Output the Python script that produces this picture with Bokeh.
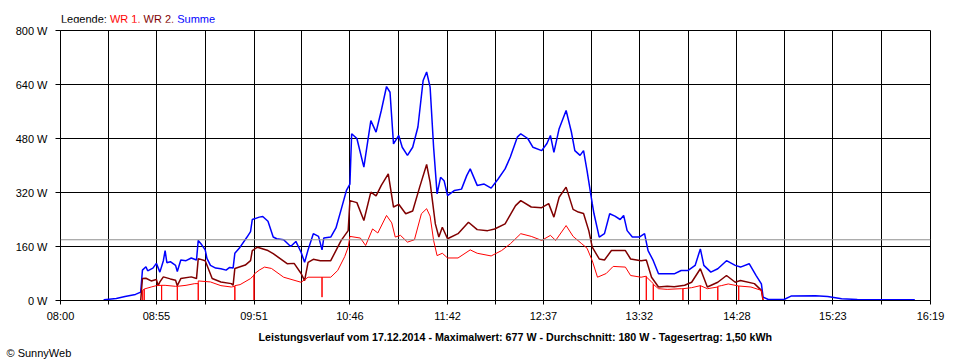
from bokeh.plotting import figure
from bokeh.models import FixedTicker, Span, Range1d, Title, Div
from bokeh.layouts import column
from bokeh.embed import file_html
from bokeh.resources import INLINE

X_LABELS = ["08:00", "08:55", "09:51", "10:46", "11:42", "12:37", "13:32", "14:28", "15:23", "16:19"]
Y_TICKS = [0, 160, 320, 480, 640, 800]
Y_LABELS = ["0 W", "160 W", "320 W", "480 W", "640 W", "800 W"]
AVG_W = 180
TITLE = "Leistungsverlauf vom 17.12.2014 - Maximalwert: 677 W - Durchschnitt: 180 W - Tagesertrag: 1,50 kWh"
SERIES_NAMES = ["WR 1", "WR 2", "Summe"]

SUMME = [
    ("08:25", 0), ("08:25", 2), ("08:32", 6), ("08:37", 12), ("08:43", 18), ("08:46", 25),
    ("08:47", 90), ("08:49", 100), ("08:50", 88), ("08:53", 96), ("08:55", 110), ("08:57", 84),
    ("08:59", 118), ("09:00", 148), ("09:01", 112), ("09:03", 115), ("09:06", 104), ("09:07", 86),
    ("09:09", 120), ("09:12", 118), ("09:15", 126), ("09:18", 120), ("09:19", 178), ("09:21", 165),
    ("09:23", 150), ("09:24", 125), ("09:26", 104), ("09:29", 96), ("09:32", 94), ("09:35", 90),
    ("09:37", 98), ("09:39", 96), ("09:40", 140), ("09:43", 158), ("09:47", 188), ("09:49", 204),
    ("09:50", 240), ("09:54", 247), ("09:56", 249), ("09:59", 235), ("10:02", 188), ("10:04", 183),
    ("10:08", 180), ("10:12", 160), ("10:15", 175), ("10:18", 143), ("10:20", 113), ("10:22", 150),
    ("10:25", 198), ("10:28", 190), ("10:30", 150), ("10:31", 185), ("10:35", 188), ("10:38", 215),
    ("10:41", 270), ("10:44", 326), ("10:46", 345), ("10:47", 494), ("10:50", 480), ("10:54", 395),
    ("10:58", 533), ("11:01", 499), ("11:04", 563), ("11:07", 634), ("11:09", 617), ("11:11", 464),
    ("11:14", 489), ("11:16", 454), ("11:19", 430), ("11:22", 454), ("11:25", 514), ("11:28", 652),
    ("11:30", 677), ("11:32", 632), ("11:34", 454), ("11:36", 316), ("11:38", 365), ("11:40", 355),
    ("11:42", 311), ("11:46", 326), ("11:50", 330), ("11:53", 370), ("11:55", 390), ("11:59", 341),
    ("12:03", 345), ("12:07", 333), ("12:11", 360), ("12:15", 390), ("12:18", 425), ("12:22", 484),
    ("12:24", 494), ("12:28", 480), ("12:31", 454), ("12:36", 444), ("12:39", 465), ("12:41", 489),
    ("12:43", 439), ("12:46", 509), ("12:50", 563), ("12:53", 500), ("12:55", 444), ("12:58", 430),
    ("13:00", 444), ("13:02", 385), ("13:05", 287), ("13:06", 257), ("13:09", 188), ("13:12", 198),
    ("13:15", 257), ("13:18", 250), ("13:21", 240), ("13:23", 252), ("13:25", 207), ("13:28", 188),
    ("13:32", 188), ("13:35", 198), ("13:37", 148), ("13:40", 118), ("13:43", 79), ("13:46", 79),
    ("13:52", 79), ("13:56", 89), ("14:00", 89), ("14:04", 104), ("14:07", 153), ("14:09", 104),
    ("14:13", 84), ("14:17", 94), ("14:22", 118), ("14:27", 104), ("14:30", 99), ("14:35", 109),
    ("14:39", 74), ("14:42", 49), ("14:43", 10), ("14:46", 3), ("14:55", 3), ("14:59", 13),
    ("15:13", 14), ("15:20", 12), ("15:28", 5), ("15:37", 3), ("16:10", 2),
]

WR2 = [
    ("08:46", 0), ("08:47", 65), ("08:49", 66), ("08:52", 58), ("08:55", 62), ("08:56", 44),
    ("08:57", 55), ("08:59", 70), ("09:03", 64), ("09:06", 60), ("09:07", 44), ("09:09", 65),
    ("09:15", 70), ("09:18", 65), ("09:19", 124), ("09:23", 118), ("09:27", 65), ("09:32", 55),
    ("09:38", 50), ("09:39", 45), ("09:40", 95), ("09:46", 105), ("09:49", 118), ("09:50", 148),
    ("09:53", 158), ("09:59", 148), ("10:02", 139), ("10:10", 109), ("10:14", 110), ("10:18", 80),
    ("10:20", 59), ("10:22", 113), ("10:25", 122), ("10:29", 118), ("10:35", 118), ("10:41", 178),
    ("10:45", 207), ("10:46", 296), ("10:50", 290), ("10:54", 237), ("10:58", 321), ("11:01", 310),
    ("11:04", 341), ("11:08", 375), ("11:11", 277), ("11:14", 285), ("11:18", 257), ("11:22", 265),
    ("11:26", 336), ("11:30", 403), ("11:32", 350), ("11:35", 227), ("11:37", 188), ("11:39", 217),
    ("11:42", 183), ("11:48", 198), ("11:54", 232), ("11:59", 210), ("12:05", 207), ("12:09", 212),
    ("12:15", 227), ("12:21", 281), ("12:24", 296), ("12:30", 277), ("12:36", 275), ("12:40", 287),
    ("12:43", 247), ("12:46", 306), ("12:50", 336), ("12:54", 270), ("12:57", 262), ("13:00", 258),
    ("13:03", 207), ("13:05", 158), ("13:09", 123), ("13:12", 120), ("13:16", 148), ("13:24", 148),
    ("13:27", 123), ("13:33", 118), ("13:36", 120), ("13:39", 69), ("13:43", 40), ("13:48", 42),
    ("13:52", 41), ("13:58", 45), ("14:02", 54), ("14:07", 94), ("14:11", 40), ("14:17", 54),
    ("14:22", 74), ("14:27", 54), ("14:30", 59), ("14:38", 50), ("14:42", 30), ("14:43", 0),
]

WR1 = [
    ("08:47", 0), ("08:47", 30), ("08:48", 33), ("08:48", 0), ("08:48", 34), ("08:52", 40),
    ("08:55", 44), ("08:58", 45), ("08:58", 0), ("08:58", 45), ("09:00", 45), ("09:06", 42),
    ("09:07", 42), ("09:07", 0), ("09:07", 42), ("09:12", 45), ("09:17", 50), ("09:19", 50),
    ("09:19", 0), ("09:19", 58), ("09:26", 55), ("09:32", 44), ("09:38", 40), ("09:40", 42),
    ("09:40", 0), ("09:40", 44), ("09:43", 47), ("09:49", 65), ("09:51", 75), ("09:51", 0),
    ("09:51", 78), ("09:54", 90), ("09:57", 99), ("10:01", 95), ("10:08", 69), ("10:18", 54),
    ("10:22", 69), ("10:30", 69), ("10:30", 10), ("10:30", 69), ("10:35", 69), ("10:39", 89),
    ("10:43", 130), ("10:45", 158), ("10:46", 190), ("10:52", 185), ("10:55", 163), ("10:59", 212),
    ("11:02", 200), ("11:07", 252), ("11:10", 230), ("11:12", 188), ("11:15", 193), ("11:19", 173),
    ("11:23", 180), ("11:27", 257), ("11:30", 272), ("11:32", 250), ("11:34", 178), ("11:36", 133),
    ("11:39", 140), ("11:42", 126), ("11:48", 126), ("11:55", 150), ("11:59", 140), ("12:07", 132),
    ("12:13", 148), ("12:18", 168), ("12:24", 198), ("12:30", 190), ("12:36", 178), ("12:41", 193),
    ("12:44", 178), ("12:50", 222), ("12:54", 190), ("12:59", 168), ("13:02", 155), ("13:05", 118),
    ("13:08", 69), ("13:13", 80), ("13:17", 101), ("13:24", 99), ("13:27", 74), ("13:33", 69),
    ("13:36", 72), ("13:36", 0), ("13:36", 70), ("13:39", 55), ("13:40", 50), ("13:40", 0),
    ("13:40", 48), ("13:43", 35), ("13:48", 33), ("13:56", 35), ("13:57", 35), ("13:57", 0),
    ("13:57", 35), ("14:02", 38), ("14:07", 44), ("14:07", 0), ("14:07", 44), ("14:11", 35),
    ("14:17", 40), ("14:17", 0), ("14:17", 42), ("14:19", 44), ("14:23", 49), ("14:29", 43),
    ("14:29", 0), ("14:29", 43), ("14:36", 40), ("14:42", 30), ("14:43", 0),
]

RED = "#ff0000"
DARKRED = "#800000"
BLUE = "#0000ff"
FONT = "Liberation Sans"


def mins(s):
    h, m = s.split(":")
    return int(h) * 60 + int(m)


def unzip(series):
    return [mins(t) for t, _ in series], [v for _, v in series]


major = [mins(s) for s in X_LABELS]
minor = [(a + b) / 2 for a, b in zip(major[:-1], major[1:])]

legend_html = (
    '<div style="position:relative; top:11px; left:61px; white-space:nowrap; '
    'font-family:\'Liberation Sans\'; font-size:11px; line-height:13px; color:black;">'
    'Legende: <span style="color:%s">%s,</span> <span style="color:%s">%s,</span> '
    '<span style="color:%s">%s</span></div>'
    % (RED, SERIES_NAMES[0], DARKRED, SERIES_NAMES[1], BLUE, SERIES_NAMES[2])
)
legend_div = Div(text=legend_html, width=960, height=22, margin=(0, 0, 0, 0))

p = figure(width=960, height=338, output_backend="svg", toolbar_location=None,
           x_range=Range1d(major[0], major[-1]), y_range=Range1d(Y_TICKS[0], Y_TICKS[-1]),
           min_border_left=60, min_border_right=30, min_border_top=8, min_border_bottom=60,
           margin=(0, 0, 0, 0))
p.background_fill_color = "white"
p.border_fill_color = "white"
p.outline_line_color = "black"

p.xaxis.ticker = FixedTicker(ticks=major, minor_ticks=minor)
p.xaxis.major_label_overrides = {m: l for m, l in zip(major, X_LABELS)}
p.yaxis.ticker = FixedTicker(ticks=Y_TICKS)
p.yaxis.major_label_overrides = {v: l for v, l in zip(Y_TICKS, Y_LABELS)}

for ax in (p.xaxis[0], p.yaxis[0]):
    ax.axis_line_color = "black"
    ax.major_tick_line_color = "black"
    ax.major_tick_in = 0
    ax.major_label_text_font = FONT
    ax.major_label_text_font_size = "11px"
    ax.major_label_text_color = "black"
p.xaxis.major_tick_out = 4
p.xaxis.minor_tick_out = 4
p.xaxis.minor_tick_in = 0
p.xaxis.minor_tick_line_color = "black"
p.xaxis.major_label_standoff = 5
p.yaxis.major_tick_out = 5
p.yaxis.minor_tick_line_color = None
p.yaxis.major_label_standoff = 8

p.xgrid.grid_line_color = "black"
p.xgrid.minor_grid_line_color = "black"
p.ygrid.grid_line_color = "black"

p.add_layout(Span(location=AVG_W, dimension="width", line_color="#909090", line_width=1))

x, y = unzip(SUMME)
p.line(x, y, line_color=BLUE, line_width=1.5)
x, y = unzip(WR2)
p.line(x, y, line_color=DARKRED, line_width=1.5)
x, y = unzip(WR1)
p.line(x, y, line_color=RED, line_width=1.0)

p.add_layout(Title(text=TITLE, align="left", offset=198, standoff=8,
                   text_font=FONT, text_font_style="bold",
                   text_font_size="10.7px", text_color="black"), "below")
p.add_layout(Title(text="\u00a9 SunnyWeb", align="left", offset=-54, standoff=-4,
                   text_font=FONT, text_font_style="normal",
                   text_font_size="11px", text_color="black"), "below")

layout = column(legend_div, p, spacing=0, margin=(0, 0, 0, 0))
open("out.html", "w").write(file_html(layout, INLINE))
